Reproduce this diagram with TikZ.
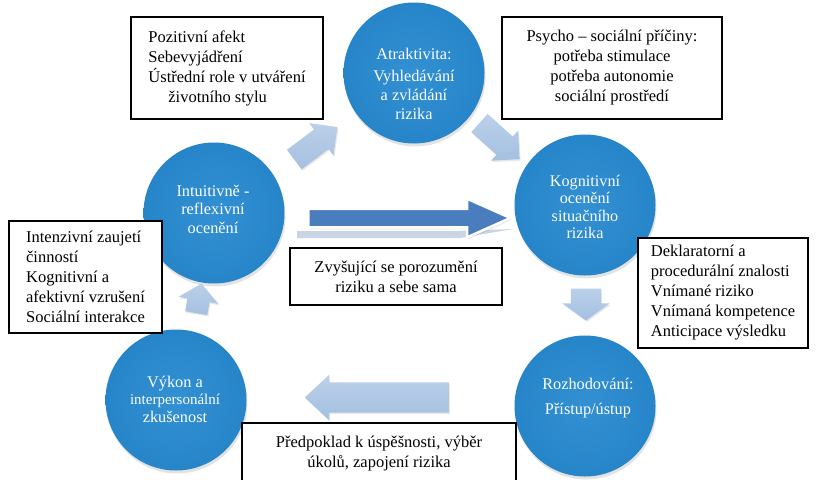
\documentclass[tikz,border=0pt]{standalone}
\usepackage{fontspec}
\setmainfont{Liberation Serif}
\usetikzlibrary{shapes.arrows,shadows}

\definecolor{bubcore}{HTML}{3290D3}
\definecolor{bubbody}{HTML}{2482C6}
\definecolor{bubrim}{HTML}{58AAE2}
\definecolor{bubedge}{HTML}{1A62A0}
\definecolor{flowlight}{HTML}{A4C0E1}
\definecolor{flowlighttop}{HTML}{BBD0E9}
\definecolor{flowdark}{HTML}{497DBD}
\definecolor{flowpale}{HTML}{C9D4E6}

% glossy disc: flat body, light bevel ring, dark edge
\pgfdeclareradialshading{bubble}{\pgfpoint{0bp}{0bp}}{%
  color(0bp)=(bubcore); color(30bp)=(bubbody); color(42.5bp)=(bubbody);
  color(45.5bp)=(bubrim); color(47.5bp)=(bubbody); color(50bp)=(bubedge)}

\tikzset{
  bubble/.style={circle, minimum size=141pt, inner sep=0pt, shade, shading=bubble,
    drop shadow={opacity=0.22, shadow xshift=1pt, shadow yshift=-3pt}},
  bubtext/.style={text=white, align=center, inner sep=0pt,
    font=\fontsize{16.3}{19}\selectfont},
  infobox/.style={draw=black, line width=1.1pt, fill=white, inner sep=0pt,
    font=\fontsize{16.5}{20}\selectfont},
  flow/.style={single arrow, inner xsep=0pt, shade, top color=flowlighttop,
    bottom color=flowlight,
    drop shadow={opacity=0.18, shadow xshift=1pt, shadow yshift=-1.5pt}},
  gainarrow/.style={single arrow, inner xsep=0pt, fill=flowdark, draw=white,
    line width=2.5pt,
    drop shadow={opacity=0.2, shadow xshift=1pt, shadow yshift=-2pt}},
}

\begin{document}
\begin{tikzpicture}[x=1pt, y=-1pt]
\useasboundingbox[fill=white] (0,0) rectangle (816,479);

% ---- stages of the cycle ----
\node[bubble] (attr) at (414,73) {};
\node[bubtext] (attrtxt) at (414,84) {Atraktivita:\\[3pt]Vyhledávání\\a zvládání\\rizika};

\node[bubble] (cogn) at (585,205) {};
\node[bubtext, font=\fontsize{16.2}{17.5}\selectfont] (cogntxt) at (585,207)
  {Kognitivní\\ocenění\\situačního\\rizika};

\node[bubble] (deci) at (585,406) {};
\node[bubtext] (decitxt) at (588,398) {Rozhodování:\\[6pt]Přístup/ústup};

\node[bubble] (perf) at (176,400) {};
\node[bubtext, font=\fontsize{16.3}{17.5}\selectfont] (perftxt) at (175,399)
  {Výkon a\\{\fontsize{15}{17.5}\selectfont interpersonální}\\zkušenost};

\node[bubble] (intu) at (214,213) {};
\node[bubtext, font=\fontsize{16.3}{18.5}\selectfont] (intutxt) at (213,209)
  {Intuitivně -\\reflexivní\\ocenění};

% ---- block arrows between the stages ----
\node[flow, minimum height=54pt, inner ysep=12pt, single arrow head extend=8pt,
  single arrow tip angle=90, rotate=37] (toattr) at (311,147) {};
\node[flow, minimum height=54pt, inner ysep=12pt, single arrow head extend=8pt,
  single arrow tip angle=90, rotate=-42] (tocogn) at (495,137) {};
\node[flow, minimum height=32pt, inner ysep=15pt, single arrow head extend=8.5pt,
  single arrow tip angle=108, rotate=-90] (todeci) at (586,299) {};
\node[flow, minimum height=144pt, inner ysep=15pt, single arrow head extend=7.5pt,
  single arrow tip angle=86, rotate=180] (toperf) at (385,397.5) {};
\node[flow, minimum height=30pt, inner ysep=11pt, single arrow head extend=9pt,
  single arrow tip angle=100, rotate=80] (tointu) at (198,303) {};

% ---- growing understanding arrow with its reflection ----
\fill[flowpale] (297,231) -- (455,231) -- (513,229) -- (460,238) -- (297,238) -- cycle;
\node[gainarrow, minimum height=202pt, inner ysep=8pt, single arrow head extend=10pt,
  single arrow tip angle=48] (gain) at (399,218) {};

% ---- explanatory boxes ----
\node[infobox, minimum width=192pt, minimum height=102pt, align=left] (posbox) at (227,68)
  {Pozitivní afekt\\Sebevyjádření\\Ústřední role v utváření\\\hspace*{20pt}životního stylu};
\node[infobox, minimum width=220pt, minimum height=102pt, align=center] (psybox) at (612,68)
  {Psycho – sociální příčiny:\\potřeba stimulace\\potřeba autonomie\\sociální prostředí};
\node[infobox, minimum width=153pt, minimum height=112pt, align=left] (engbox) at (85.5,277)
  {Intenzivní zaujetí\\činností\\Kognitivní a\\afektivní vzrušení\\Sociální interakce};
\node[infobox, minimum width=170pt, minimum height=110pt, align=left] (knowbox) at (723,293)
  {Deklaratorní a\\procedurální znalosti\\Vnímané riziko\\Vnímaná kompetence\\Anticipace výsledku};
\node[infobox, minimum width=212pt, minimum height=57pt, align=center] (gainbox) at (396,276.5)
  {Zvyšující se porozumění\\riziku a sebe sama};
\node[infobox, minimum width=274pt, minimum height=62pt, align=center] (predbox) at (379,454)
  {Předpoklad k úspěšnosti, výběr\\úkolů, zapojení rizika};
\end{tikzpicture}
\end{document}
